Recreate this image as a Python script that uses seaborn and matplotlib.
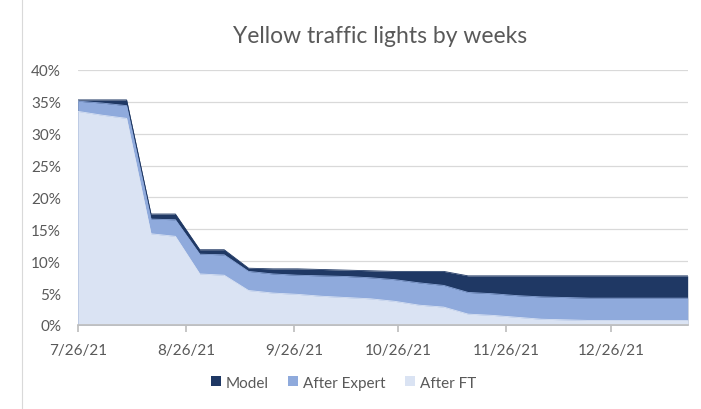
import matplotlib
matplotlib.use("Agg")
import matplotlib.pyplot as plt
import matplotlib.ticker as mticker
import matplotlib.dates as mdates
from matplotlib.patches import Patch
from matplotlib.lines import Line2D
import seaborn as sns
import pandas as pd

# weekly values, in percent
weeks = ["2021-07-26", "2021-08-02", "2021-08-09", "2021-08-16", "2021-08-23",
         "2021-08-30", "2021-09-06", "2021-09-13", "2021-09-20", "2021-09-27",
         "2021-10-04", "2021-10-11", "2021-10-18", "2021-10-25", "2021-11-01",
         "2021-11-08", "2021-11-15", "2021-11-22", "2021-11-29", "2021-12-06",
         "2021-12-13", "2021-12-20", "2021-12-27", "2022-01-03", "2022-01-10",
         "2022-01-17"]
model = [35.3, 35.3, 35.3, 17.4, 17.4, 11.8, 11.8, 8.9, 8.8, 8.8,
         8.7, 8.6, 8.5, 8.4, 8.4, 8.4, 7.7, 7.7, 7.7, 7.7,
         7.7, 7.7, 7.7, 7.7, 7.7, 7.7]
after_expert = [35.1, 34.8, 34.4, 16.6, 16.5, 11.1, 11.0, 8.4, 8.0, 7.8,
                7.7, 7.6, 7.4, 7.1, 6.6, 6.2, 5.1, 4.9, 4.6, 4.4,
                4.3, 4.2, 4.2, 4.2, 4.2, 4.2]
after_ft = [33.5, 32.9, 32.4, 14.3, 13.9, 8.0, 7.8, 5.4, 5.0, 4.8,
            4.5, 4.3, 4.1, 3.7, 3.1, 2.8, 1.7, 1.5, 1.2, 0.9,
            0.8, 0.7, 0.7, 0.7, 0.7, 0.7]

series = ["Model", "After Expert", "After FT"]
colors = ["#1f3864", "#8faadc", "#dae3f3"]

df = pd.DataFrame({"week": pd.to_datetime(weeks), "Model": model,
                   "After Expert": after_expert, "After FT": after_ft})

sns.set_theme(style="white")
plt.rcParams['font.family'] = ['Lato', 'DejaVu Sans']

fig = plt.figure(figsize=(7.01, 4.10), dpi=100)
ax = fig.add_axes([0.111, 0.205, 0.870, 0.622])

ax.yaxis.grid(True, color="#d9d9d9", linewidth=0.9)
ax.set_axisbelow(True)

# overlapping areas, the largest drawn first
for name, c in zip(series, colors):
    sns.lineplot(data=df, x="week", y=name, ax=ax, color=c, linewidth=0.6, legend=False)
    ax.fill_between(df["week"], df[name], color=c, linewidth=0, zorder=2)

ax.set_xlim(df["week"].iloc[0], df["week"].iloc[-1])
ax.set_ylim(0, 40)
ax.yaxis.set_major_locator(mticker.MultipleLocator(5))
ax.yaxis.set_major_formatter(mticker.FuncFormatter(lambda v, p: f"{v:.0f}%"))
ax.xaxis.set_major_locator(mdates.DayLocator(bymonthday=26))
ax.xaxis.set_major_formatter(mticker.FuncFormatter(
    lambda v, p: "{d.month}/{d.day}/{y}".format(d=mdates.num2date(v), y=mdates.num2date(v).year % 100)))
ax.set_xlabel("")
ax.set_ylabel("")

for s in ["top", "right", "left"]:
    ax.spines[s].set_visible(False)
ax.spines["bottom"].set_color("#bfbfbf")
ax.spines["bottom"].set_zorder(5)
ax.tick_params(axis="x", bottom=True, direction="out", length=5, color="#bfbfbf",
               labelsize=11, labelcolor="#595959", pad=8)
ax.tick_params(axis="y", left=False, labelsize=11, labelcolor="#595959", pad=6)

fig.text(0.542, 0.912, "Yellow traffic lights by weeks", ha="center", va="center",
         fontsize=16.5, color="#595959")

handles = [Patch(facecolor=c, edgecolor="none") for c in colors]
fig.legend(handles, series, loc="center", bbox_to_anchor=(0.49, 0.064), ncol=3,
           frameon=False, handlelength=0.65, handleheight=0.65, handletextpad=0.3,
           columnspacing=1.3, fontsize=11, labelcolor="#595959")

fig.add_artist(Line2D([0.031, 0.031], [0, 1], color="#d9d9d9", linewidth=0.8))

fig.savefig("out.png", dpi=100)
